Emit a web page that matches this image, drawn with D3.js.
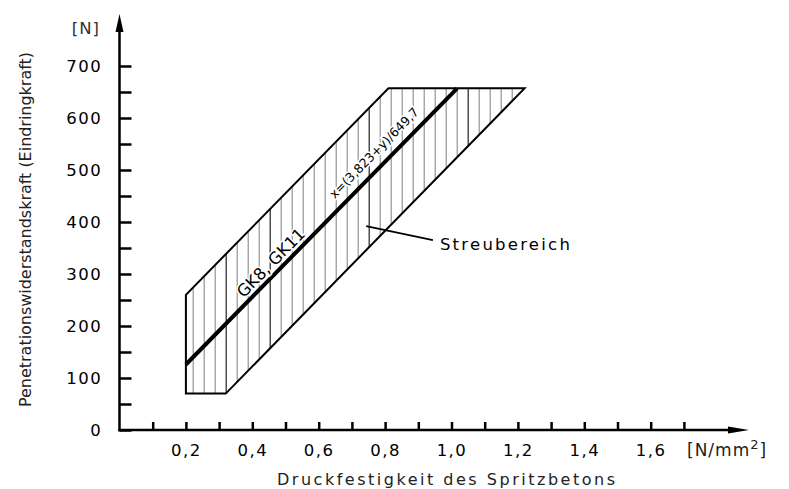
<!DOCTYPE html>
<html>
<head>
<meta charset="utf-8">
<script src="https://cdn.jsdelivr.net/npm/d3@7"></script>
<style>
  body { margin: 0; background: #fff; }
  svg { display: block; font-family: "DejaVu Sans", sans-serif; }
</style>
</head>
<body>
<svg id="chart" width="789" height="489"></svg>
<script>
// Druckfestigkeit [N/mm2] vs. Eindringkraft [N]
const xTickValues = [0.1, 0.2, 0.3, 0.4, 0.5, 0.6, 0.7, 0.8, 0.9, 1.0, 1.1, 1.2, 1.3, 1.4, 1.5, 1.6, 1.7];
const xLabelValues = [0.2, 0.4, 0.6, 0.8, 1.0, 1.2, 1.4, 1.6];
const yTickValues = [0, 50, 100, 150, 200, 250, 300, 350, 400, 450, 500, 550, 600, 650, 700];
const yLabelValues = [0, 100, 200, 300, 400, 500, 600, 700];

// Streubereich (scatter band) corners
const bandX = [0.2, 0.32, 1.22, 0.81, 0.2];
const bandY = [70, 70, 657, 657, 260];

// regression line x=(3,823+y)/649,7
const fitX = [0.2, 1.017];
const fitY = [126, 657];

const svg = d3.select("#chart");

const x = d3.scaleLinear().domain([0, 1]).range([119.5, 451.5]);
const y = d3.scaleLinear().domain([0, 700]).range([430, 66]);

const fmt = v => d3.format(".1f")(v).replace(".", ",");

// hatching, clipped to the band
const bandPts = bandX.map((d, i) => [x(d), y(bandY[i])]);
svg.append("clipPath").attr("id", "band-clip")
  .append("polygon").attr("points", bandPts.map(p => p.join(",")).join(" "));

const HATCH_STEP = 11;
const hatchStart = x(0.2) + 7.3;
const darkIdx = [3, 7, 16, 25];
svg.append("g").attr("clip-path", "url(#band-clip)")
  .selectAll("line")
  .data(d3.range(hatchStart, x(1.22), HATCH_STEP))
  .join("line")
    .attr("x1", d => d).attr("x2", d => d)
    .attr("y1", y(0)).attr("y2", y(700))
    .attr("stroke", (d, i) => darkIdx.includes(i) ? "#222" : "#8a8a8a")
    .attr("stroke-width", (d, i) => darkIdx.includes(i) ? 1.2 : 1.1);

svg.append("polygon")
  .attr("points", bandPts.map(p => p.join(",")).join(" "))
  .attr("fill", "none").attr("stroke", "#000").attr("stroke-width", 2)
  .attr("stroke-linejoin", "miter");

// regression line
svg.append("line")
  .attr("x1", x(fitX[0])).attr("y1", y(fitY[0]))
  .attr("x2", x(fitX[1])).attr("y2", y(fitY[1]))
  .attr("stroke", "#000").attr("stroke-width", 4);

const angle = Math.atan2(y(fitY[1]) - y(fitY[0]), x(fitX[1]) - x(fitX[0])) * 180 / Math.PI;

function slantLabel(text, dx, dy, size) {
  svg.append("text")
    .attr("transform", `translate(${x(dx)},${y(dy)}) rotate(${angle})`)
    .attr("text-anchor", "middle")
    .attr("font-size", size)
    .attr("stroke", "#fff").attr("stroke-width", 3).attr("paint-order", "stroke")
    .attr("fill", "#000")
    .text(text);
}
slantLabel("GK8, GK11", 0.468, 314, 16.5);
slantLabel("x=(3,823+y)/649,7", 0.776, 527, 12.5);

// Streubereich leader + label
svg.append("line")
  .attr("x1", x(0.743)).attr("y1", y(392))
  .attr("x2", x(0.944)).attr("y2", y(365))
  .attr("stroke", "#000").attr("stroke-width", 1.8);
svg.append("text")
  .attr("x", x(0.965)).attr("y", y(347))
  .attr("font-size", 16.5).attr("textLength", 130).attr("lengthAdjust", "spacing")
  .text("Streubereich");

// axes
const yAxis = d3.axisLeft(y)
  .tickValues(yTickValues)
  .tickSize(-12).tickPadding(19)
  .tickFormat(d => yLabelValues.includes(d) ? d : "");
const gy = svg.append("g").attr("transform", `translate(${x(0)},0)`).call(yAxis);

const xAxis = d3.axisBottom(x)
  .tickValues(xTickValues)
  .tickSize(-8).tickPadding(14)
  .tickFormat(d => xLabelValues.some(v => Math.abs(v - d) < 1e-9) ? fmt(d) : "");
const gx = svg.append("g").attr("transform", `translate(0,${y(0)})`).call(xAxis);

[gx, gy].forEach(g => {
  g.select(".domain").remove();
  g.selectAll(".tick line").attr("stroke", "#000").attr("stroke-width", 2.5);
  g.selectAll(".tick text")
    .attr("fill", "#000")
    .attr("font-family", "DejaVu Sans, sans-serif")
    .attr("font-size", 16.5)
    .attr("letter-spacing", 1.5);
});
gy.selectAll(".tick text").attr("dx", "0.1em");

// axis lines with arrows
svg.append("line")
  .attr("x1", x(0)).attr("y1", y(0)).attr("x2", x(0)).attr("y2", 28)
  .attr("stroke", "#000").attr("stroke-width", 2.5).attr("stroke-linecap", "square");
svg.append("path")
  .attr("d", `M${x(0)},14 L${x(0) - 4},32 L${x(0) + 4},32 Z`).attr("fill", "#000");

svg.append("line")
  .attr("x1", x(0)).attr("y1", y(0)).attr("x2", 735).attr("y2", y(0))
  .attr("stroke", "#000").attr("stroke-width", 2.5).attr("stroke-linecap", "square");
svg.append("path")
  .attr("d", `M749,${y(0)} L728,${y(0) - 3.5} L728,${y(0) + 3.5} Z`).attr("fill", "#000");

// unit labels
svg.append("text")
  .attr("x", 100).attr("y", 34).attr("text-anchor", "end")
  .attr("font-size", 16.5).attr("letter-spacing", 1).attr("fill", "#333")
  .text("[N]");

const unitX = svg.append("text")
  .attr("x", 687).attr("y", 456).attr("font-size", 17).attr("letter-spacing", 1).attr("fill", "#222");
unitX.append("tspan").text("[N/mm");
unitX.append("tspan").attr("dy", -7).attr("font-size", 13).text("2");
unitX.append("tspan").attr("dy", 7).text("]");

// axis titles
svg.append("text")
  .attr("x", 277).attr("y", 485)
  .attr("font-size", 16).attr("textLength", 338).attr("lengthAdjust", "spacing")
  .attr("fill", "#222")
  .text("Druckfestigkeit des Spritzbetons");

svg.append("text")
  .attr("transform", "translate(31,407) rotate(-90)")
  .attr("font-size", 16).attr("textLength", 355).attr("lengthAdjust", "spacingAndGlyphs")
  .attr("fill", "#222")
  .text("Penetrationswiderstandskraft (Eindringkraft)");
</script>
</body>
</html>
